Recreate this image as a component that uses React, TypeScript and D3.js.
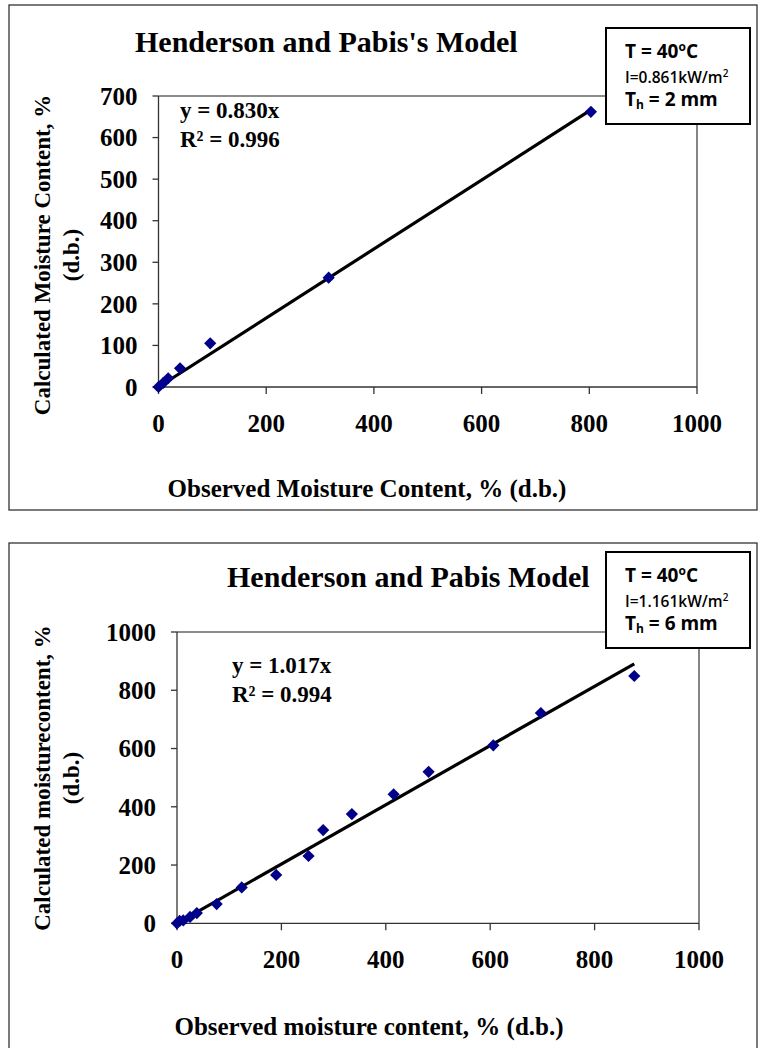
import React from "react";
import * as d3 from "d3";

// ---- Data ----
const obs1 = [0, 9, 18, 40, 96, 316, 803];
const calc1 = [0, 10, 21, 45, 105, 263, 662];
const slope1 = 0.83;
const xTicks1 = [0, 200, 400, 600, 800, 1000];
const yTicks1 = [0, 100, 200, 300, 400, 500, 600, 700];

const obs2 = [0, 5, 12, 25, 38, 76, 124, 190, 252, 280, 335, 415, 482, 606, 697, 876];
const calc2 = [0, 8, 10, 22, 35, 66, 123, 166, 231, 320, 375, 443, 520, 611, 722, 849];
const slope2 = 1.017;
const xTicks2 = [0, 200, 400, 600, 800, 1000];
const yTicks2 = [0, 200, 400, 600, 800, 1000];

const SERIF = "'Liberation Serif', 'Times New Roman', serif";
const SANS = "'Open Sans', 'Noto Sans', sans-serif";

type PanelProps = {
  frame: { x: number; y: number; w: number; h: number };
  plot: { l: number; r: number; t: number; b: number };
  xMax: number;
  yMax: number;
  xTicks: number[];
  yTicks: number[];
  obs: number[];
  calc: number[];
  slope: number;
  title: string;
  titleX: number;
  titleY: number;
  eq: string;
  r2: string;
  eqX: number;
  eqY: number;
  yTitle1: string;
  yTitleCenterY: number;
  xTitle: string;
  xTitleX: number;
  xTitleY: number;
  box: { x: number; y: number; w: number; h: number };
  irr: string;
  th: string;
};

function Panel(p: PanelProps) {
  const x = d3.scaleLinear().domain([0, p.xMax]).range([p.plot.l, p.plot.r]);
  const y = d3.scaleLinear().domain([0, p.yMax]).range([p.plot.b, p.plot.t]);
  const pts = p.obs.map((o, i) => [o, p.calc[i]] as [number, number]);
  const xEnd = d3.max(p.obs) as number;
  const line = d3
    .line<[number, number]>()
    .x((d) => x(d[0]))
    .y((d) => y(d[1]));
  const fit: [number, number][] = [
    [0, 0],
    [xEnd, xEnd * p.slope],
  ];
  const diamond = d3.symbol().type(d3.symbolDiamond2).size(95)();
  return (
    <g>
      <rect
        x={p.frame.x}
        y={p.frame.y}
        width={p.frame.w}
        height={p.frame.h}
        fill="white"
        stroke="#333"
        strokeWidth={1.3}
      />
      {/* plot area border */}
      <line x1={p.plot.l} x2={p.plot.r} y1={p.plot.t} y2={p.plot.t} stroke="#666" strokeWidth={1.3} />
      <line x1={p.plot.r} x2={p.plot.r} y1={p.plot.t} y2={p.plot.b} stroke="#444" strokeWidth={1.3} />
      {/* axes */}
      <line x1={p.plot.l} x2={p.plot.l} y1={p.plot.t} y2={p.plot.b} stroke="#333" strokeWidth={1.3} />
      <line x1={p.plot.l} x2={p.plot.r} y1={p.plot.b} y2={p.plot.b} stroke="#333" strokeWidth={1.3} />
      {p.yTicks.map((t) => (
        <g key={"y" + t}>
          <line x1={p.plot.l - 6} x2={p.plot.l} y1={y(t)} y2={y(t)} stroke="#333" strokeWidth={1.3} />
          <text
            x={p.plot.l - 21}
            y={y(t)}
            dy="0.35em"
            textAnchor="end"
            fontFamily={SERIF}
            fontWeight="bold"
            fontSize={25}
          >
            {t}
          </text>
        </g>
      ))}
      {p.xTicks.map((t) => (
        <g key={"x" + t}>
          <line x1={x(t)} x2={x(t)} y1={p.plot.b} y2={p.plot.b + 7} stroke="#333" strokeWidth={1.3} />
          <text
            x={x(t)}
            y={p.plot.b + 45}
            textAnchor="middle"
            fontFamily={SERIF}
            fontWeight="bold"
            fontSize={25}
          >
            {t}
          </text>
        </g>
      ))}
      <path d={line(fit) || ""} stroke="#000" strokeWidth={3.2} fill="none" />
      {pts.map((d, i) => (
        <path key={i} d={diamond || ""} transform={`translate(${x(d[0])},${y(d[1])})`} fill="#00008B" />
      ))}
      <text x={p.titleX} y={p.titleY} fontFamily={SERIF} fontWeight="bold" fontSize={30}>
        {p.title}
      </text>
      <text x={p.eqX} y={p.eqY} fontFamily={SERIF} fontWeight="bold" fontSize={23}>
        {p.eq}
      </text>
      <text x={p.eqX} y={p.eqY + 29} fontFamily={SERIF} fontWeight="bold" fontSize={23}>
        {p.r2}
      </text>
      <g transform={`translate(42,${p.yTitleCenterY}) rotate(-90)`}>
        <text x={0} y={0} dy="0.35em" textAnchor="middle" fontFamily={SERIF} fontWeight="bold" fontSize={23}>
          {p.yTitle1}
        </text>
        <text x={0} y={29} dy="0.35em" textAnchor="middle" fontFamily={SERIF} fontWeight="bold" fontSize={23}>
          (d.b.)
        </text>
      </g>
      <text x={p.xTitleX} y={p.xTitleY} textAnchor="middle" fontFamily={SERIF} fontWeight="bold" fontSize={25}>
        {p.xTitle}
      </text>
      <rect x={p.box.x} y={p.box.y} width={p.box.w} height={p.box.h} fill="white" stroke="#000" strokeWidth={2} />
      <text x={p.box.x + 19} y={p.box.y + 30} fontFamily={SANS} fontWeight="bold" fontSize={19}>
        T = 40
        <tspan dy={-7} fontSize={12}>o</tspan>
        <tspan dy={7}>C</tspan>
      </text>
      <text x={p.box.x + 19} y={p.box.y + 55} fontFamily={SANS} fontWeight="600" fontSize={15.5}>
        {p.irr}
        <tspan dy={-6} fontSize={10}>2</tspan>
      </text>
      <text x={p.box.x + 19} y={p.box.y + 78} fontFamily={SANS} fontWeight="bold" fontSize={19}>
        T
        <tspan dy={3} fontSize={12}>h</tspan>
        <tspan dy={-3}>{p.th}</tspan>
      </text>
    </g>
  );
}

export default function App() {
  return (
    <svg
      width={761}
      height={1048}
      style={{ position: "absolute", left: 0, top: 0, background: "white" }}
    >
      <rect x={0} y={0} width={761} height={1048} fill="white" />
      <Panel
        frame={{ x: 9, y: 5, w: 748, h: 505 }}
        plot={{ l: 158.5, r: 697, t: 96, b: 387 }}
        xMax={1000}
        yMax={700}
        xTicks={xTicks1}
        yTicks={yTicks1}
        obs={obs1}
        calc={calc1}
        slope={slope1}
        title="Henderson and Pabis's Model"
        titleX={135}
        titleY={52}
        eq="y = 0.830x"
        r2="R² = 0.996"
        eqX={180}
        eqY={118}
        yTitle1="Calculated Moisture Content, %"
        yTitleCenterY={255}
        xTitle="Observed Moisture Content, % (d.b.)"
        xTitleX={367}
        xTitleY={497}
        box={{ x: 606, y: 28, w: 144, h: 96 }}
        irr="I=0.861kW/m"
        th=" = 2 mm"
      />
      <Panel
        frame={{ x: 9, y: 543, w: 748, h: 510 }}
        plot={{ l: 177, r: 699, t: 632, b: 923.3 }}
        xMax={1000}
        yMax={1000}
        xTicks={xTicks2}
        yTicks={yTicks2}
        obs={obs2}
        calc={calc2}
        slope={slope2}
        title="Henderson and Pabis Model"
        titleX={227}
        titleY={587}
        eq="y = 1.017x"
        r2="R² = 0.994"
        eqX={232}
        eqY={673}
        yTitle1="Calculated moisturecontent, %"
        yTitleCenterY={778}
        xTitle="Observed moisture content, % (d.b.)"
        xTitleX={369}
        xTitleY={1035}
        box={{ x: 606, y: 552, w: 144, h: 96 }}
        irr="I=1.161kW/m"
        th=" = 6 mm"
      />
    </svg>
  );
}
